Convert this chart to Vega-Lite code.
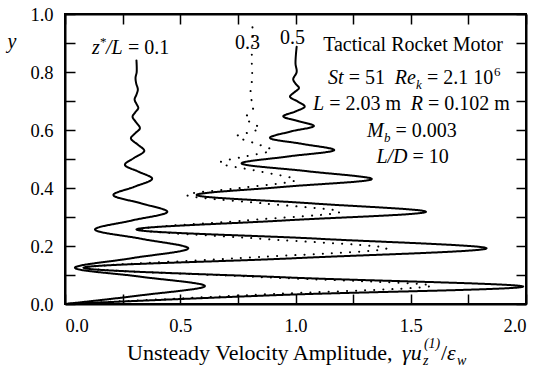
{
  "$schema": "https://vega.github.io/schema/vega-lite/v6.json",
  "width": 461,
  "height": 290,
  "autosize": {"type": "none"},
  "padding": {"left": 65, "top": 14, "right": 16, "bottom": 67},
  "background": "white",
  "config": {
    "view": {"stroke": "black", "strokeWidth": 2},
    "axis": {
      "grid": false,
      "domain": true,
      "domainColor": "black",
      "domainWidth": 2,
      "tickColor": "black",
      "tickWidth": 1.5,
      "tickSize": -10,
      "labelFont": "Liberation Serif",
      "labelFontSize": 18.5,
      "labelColor": "black",
      "labelPadding": 22,
      "title": null
    },
    "text": {"font": "Liberation Serif", "color": "black", "align": "left", "baseline": "alphabetic"}
  },
  "encoding": {
    "x": {"field": "x", "type": "quantitative", "scale": {"domain": [0, 2], "nice": false, "zero": false}, "axis": null},
    "y": {"field": "y", "type": "quantitative", "scale": {"domain": [0, 1], "nice": false, "zero": false}, "axis": null}
  },
  "resolve": {"axis": {"x": "independent", "y": "independent"}},
  "layer": [
    {
      "data": {
        "values": [
          {"s": "0.1", "y": 0.000, "x": 0.000},
          {"s": "0.1", "y": 0.030, "x": 0.330},
          {"s": "0.1", "y": 0.062, "x": 0.607},
          {"s": "0.1", "y": 0.094, "x": 0.330},
          {"s": "0.1", "y": 0.125, "x": 0.043},
          {"s": "0.1", "y": 0.158, "x": 0.290},
          {"s": "0.1", "y": 0.192, "x": 0.535},
          {"s": "0.1", "y": 0.225, "x": 0.330},
          {"s": "0.1", "y": 0.257, "x": 0.130},
          {"s": "0.1", "y": 0.288, "x": 0.290},
          {"s": "0.1", "y": 0.318, "x": 0.444},
          {"s": "0.1", "y": 0.347, "x": 0.330},
          {"s": "0.1", "y": 0.376, "x": 0.210},
          {"s": "0.1", "y": 0.404, "x": 0.300},
          {"s": "0.1", "y": 0.432, "x": 0.378},
          {"s": "0.1", "y": 0.456, "x": 0.320},
          {"s": "0.1", "y": 0.480, "x": 0.260},
          {"s": "0.1", "y": 0.504, "x": 0.300},
          {"s": "0.1", "y": 0.528, "x": 0.344},
          {"s": "0.1", "y": 0.550, "x": 0.315},
          {"s": "0.1", "y": 0.571, "x": 0.286},
          {"s": "0.1", "y": 0.589, "x": 0.305},
          {"s": "0.1", "y": 0.606, "x": 0.325},
          {"s": "0.1", "y": 0.626, "x": 0.309},
          {"s": "0.1", "y": 0.646, "x": 0.293},
          {"s": "0.1", "y": 0.661, "x": 0.305},
          {"s": "0.1", "y": 0.676, "x": 0.318},
          {"s": "0.1", "y": 0.690, "x": 0.310},
          {"s": "0.1", "y": 0.705, "x": 0.302},
          {"s": "0.1", "y": 0.722, "x": 0.310},
          {"s": "0.1", "y": 0.740, "x": 0.316},
          {"s": "0.1", "y": 0.760, "x": 0.309},
          {"s": "0.1", "y": 0.780, "x": 0.306},
          {"s": "0.1", "y": 0.800, "x": 0.311},
          {"s": "0.1", "y": 0.840, "x": 0.310},

          {"s": "0.3", "y": 0.000, "x": 0.000},
          {"s": "0.3", "y": 0.031, "x": 0.800},
          {"s": "0.3", "y": 0.063, "x": 1.590},
          {"s": "0.3", "y": 0.094, "x": 0.820},
          {"s": "0.3", "y": 0.125, "x": 0.100},
          {"s": "0.3", "y": 0.158, "x": 0.750},
          {"s": "0.3", "y": 0.192, "x": 1.395},
          {"s": "0.3", "y": 0.225, "x": 0.850},
          {"s": "0.3", "y": 0.257, "x": 0.330},
          {"s": "0.3", "y": 0.288, "x": 0.780},
          {"s": "0.3", "y": 0.318, "x": 1.193},
          {"s": "0.3", "y": 0.347, "x": 0.860},
          {"s": "0.3", "y": 0.376, "x": 0.528},
          {"s": "0.3", "y": 0.402, "x": 0.780},
          {"s": "0.3", "y": 0.428, "x": 1.000},
          {"s": "0.3", "y": 0.458, "x": 0.840},
          {"s": "0.3", "y": 0.487, "x": 0.672},
          {"s": "0.3", "y": 0.510, "x": 0.790},
          {"s": "0.3", "y": 0.531, "x": 0.895},
          {"s": "0.3", "y": 0.555, "x": 0.820},
          {"s": "0.3", "y": 0.578, "x": 0.745},
          {"s": "0.3", "y": 0.592, "x": 0.800},
          {"s": "0.3", "y": 0.606, "x": 0.846},
          {"s": "0.3", "y": 0.624, "x": 0.810},
          {"s": "0.3", "y": 0.642, "x": 0.780},
          {"s": "0.3", "y": 0.660, "x": 0.805},
          {"s": "0.3", "y": 0.680, "x": 0.818},
          {"s": "0.3", "y": 0.700, "x": 0.810},
          {"s": "0.3", "y": 0.730, "x": 0.805},
          {"s": "0.3", "y": 0.780, "x": 0.812},
          {"s": "0.3", "y": 0.850, "x": 0.810},
          {"s": "0.3", "y": 0.920, "x": 0.815},
          {"s": "0.3", "y": 0.970, "x": 0.812},

          {"s": "0.5", "y": 0.000, "x": 0.000},
          {"s": "0.5", "y": 0.031, "x": 0.930},
          {"s": "0.5", "y": 0.060, "x": 1.988},
          {"s": "0.5", "y": 0.092, "x": 0.950},
          {"s": "0.5", "y": 0.125, "x": 0.080},
          {"s": "0.5", "y": 0.158, "x": 1.000},
          {"s": "0.5", "y": 0.192, "x": 1.829},
          {"s": "0.5", "y": 0.225, "x": 1.100},
          {"s": "0.5", "y": 0.257, "x": 0.310},
          {"s": "0.5", "y": 0.288, "x": 0.950},
          {"s": "0.5", "y": 0.318, "x": 1.566},
          {"s": "0.5", "y": 0.347, "x": 1.070},
          {"s": "0.5", "y": 0.376, "x": 0.571},
          {"s": "0.5", "y": 0.404, "x": 0.950},
          {"s": "0.5", "y": 0.431, "x": 1.331},
          {"s": "0.5", "y": 0.458, "x": 1.050},
          {"s": "0.5", "y": 0.485, "x": 0.766},
          {"s": "0.5", "y": 0.508, "x": 0.960},
          {"s": "0.5", "y": 0.531, "x": 1.168},
          {"s": "0.5", "y": 0.552, "x": 1.030},
          {"s": "0.5", "y": 0.573, "x": 0.889},
          {"s": "0.5", "y": 0.595, "x": 0.980},
          {"s": "0.5", "y": 0.614, "x": 1.080},
          {"s": "0.5", "y": 0.631, "x": 1.010},
          {"s": "0.5", "y": 0.647, "x": 0.947},
          {"s": "0.5", "y": 0.664, "x": 1.000},
          {"s": "0.5", "y": 0.681, "x": 1.040},
          {"s": "0.5", "y": 0.698, "x": 1.010},
          {"s": "0.5", "y": 0.715, "x": 0.976},
          {"s": "0.5", "y": 0.730, "x": 0.995},
          {"s": "0.5", "y": 0.745, "x": 1.015},
          {"s": "0.5", "y": 0.760, "x": 1.000},
          {"s": "0.5", "y": 0.775, "x": 0.990},
          {"s": "0.5", "y": 0.800, "x": 1.005},
          {"s": "0.5", "y": 0.830, "x": 1.000},
          {"s": "0.5", "y": 0.887, "x": 1.005}
        ]
      },
      "mark": {"type": "line", "interpolate": "catmull-rom", "strokeWidth": 2, "strokeCap": "round", "color": "black"},
      "encoding": {
        "x": {"field": "x", "type": "quantitative", "scale": {"domain": [0, 2], "nice": false, "zero": false},
              "axis": {"orient": "bottom", "values": [0, 0.25, 0.5, 0.75, 1, 1.25, 1.5, 1.75, 2],
                       "labelExpr": "datum.value % 0.5 == 0 ? format(datum.value, '.1f') : ''"}},
        "y": {"field": "y", "type": "quantitative", "scale": {"domain": [0, 1], "nice": false, "zero": false},
              "axis": {"orient": "left", "values": [0, 0.1, 0.2, 0.3, 0.4, 0.5, 0.6, 0.7, 0.8, 0.9, 1],
                       "labelExpr": "round(datum.value * 10) % 2 == 0 ? format(datum.value, '.1f') : ''"}},
        "detail": {"field": "s"},
        "order": {"field": "y", "type": "quantitative"},
        "strokeDash": {"field": "s", "type": "nominal", "legend": null,
                       "scale": {"domain": ["0.1", "0.3", "0.5"], "range": [[1, 0], [0.1, 9], [1, 0]]}}
      }
    },
    {
      "data": {"values": [{"x": 0, "y": 0}]},
      "mark": {"type": "point", "opacity": 0},
      "encoding": {
        "x": {"field": "x", "type": "quantitative", "scale": {"domain": [0, 2], "nice": false, "zero": false},
              "axis": {"orient": "top", "values": [0, 0.25, 0.5, 0.75, 1, 1.25, 1.5, 1.75, 2], "labels": false}},
        "y": {"field": "y", "type": "quantitative", "scale": {"domain": [0, 1], "nice": false, "zero": false},
              "axis": {"orient": "right", "values": [0, 0.1, 0.2, 0.3, 0.4, 0.5, 0.6, 0.7, 0.8, 0.9, 1], "labels": false}}
      }
    },
    {
      "data": {
        "values": [
          {"x": 1.120, "y": 0.8724, "t": "Tactical Rocket Motor"},
          {"x": 1.231, "y": 0.7586, "t": "= 51"},
          {"x": 1.570, "y": 0.7586, "t": "= 2.1 10"},
          {"x": 1.146, "y": 0.6690, "t": "= 2.03 m"},
          {"x": 1.575, "y": 0.6690, "t": "= 0.102 m"},
          {"x": 1.434, "y": 0.5759, "t": "= 0.003"},
          {"x": 1.508, "y": 0.4862, "t": "= 10"},
          {"x": 0.273, "y": 0.8621, "t": "= 0.1"},
          {"x": 0.738, "y": 0.8793, "t": "0.3"},
          {"x": 0.933, "y": 0.8966, "t": "0.5"}
        ]
      },
      "mark": {"type": "text", "fontSize": 20},
      "encoding": {"text": {"field": "t"}}
    },
    {
      "data": {
        "values": [
          {"x": 1.141, "y": 0.7586, "t": "St"},
          {"x": 1.431, "y": 0.7586, "t": "Re"},
          {"x": 1.076, "y": 0.6690, "t": "L"},
          {"x": 1.500, "y": 0.6690, "t": "R"},
          {"x": 1.310, "y": 0.5759, "t": "M"},
          {"x": 1.351, "y": 0.4862, "t": "L/D"},
          {"x": 0.117, "y": 0.8621, "t": "z"},
          {"x": 0.178, "y": 0.8621, "t": "/L"},
          {"x": -0.250, "y": 0.8830, "t": "y"}
        ]
      },
      "mark": {"type": "text", "fontSize": 20, "fontStyle": "italic"},
      "encoding": {"text": {"field": "t"}}
    },
    {
      "data": {
        "values": [
          {"x": 1.523, "y": 0.7414, "t": "k"},
          {"x": 1.384, "y": 0.5586, "t": "b"}
        ]
      },
      "mark": {"type": "text", "fontSize": 13, "fontStyle": "italic"},
      "encoding": {"text": {"field": "t"}}
    },
    {
      "data": {
        "values": [
          {"x": 1.861, "y": 0.7862, "t": "6"},
          {"x": 0.152, "y": 0.8897, "t": "*"}
        ]
      },
      "mark": {"type": "text", "fontSize": 13},
      "encoding": {"text": {"field": "t"}}
    },
    {
      "data": {
        "values": [
          {"x": 0.269, "y": -0.1931, "t": "Unsteady Velocity Amplitude,"},
          {"x": 1.631, "y": -0.1931, "t": "/"}
        ]
      },
      "mark": {"type": "text", "fontSize": 22},
      "encoding": {"text": {"field": "t"}}
    },
    {
      "data": {
        "values": [
          {"x": 1.462, "y": -0.1931, "t": "γu"},
          {"x": 1.657, "y": -0.1931, "t": "ε"}
        ]
      },
      "mark": {"type": "text", "fontSize": 22, "fontStyle": "italic"},
      "encoding": {"text": {"field": "t"}}
    },
    {
      "data": {
        "values": [
          {"x": 1.553, "y": -0.2103, "t": "z"},
          {"x": 1.557, "y": -0.1517, "t": "(1)"},
          {"x": 1.701, "y": -0.2103, "t": "w"}
        ]
      },
      "mark": {"type": "text", "fontSize": 14, "fontStyle": "italic"},
      "encoding": {"text": {"field": "t"}}
    }
  ]
}
